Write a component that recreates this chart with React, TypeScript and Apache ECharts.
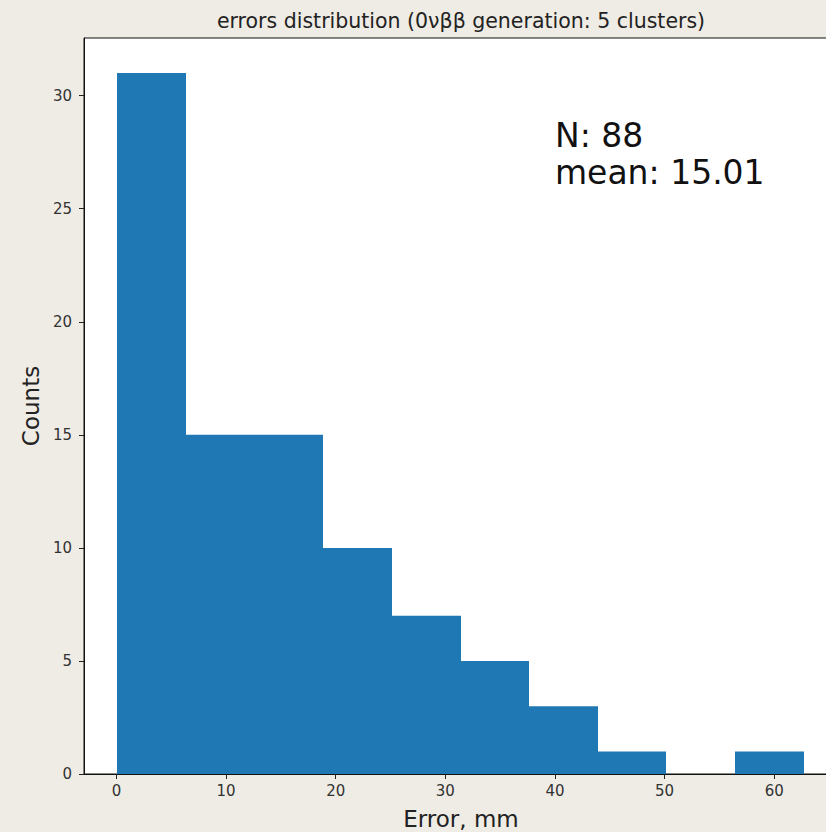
import React, { useEffect, useRef } from "react";
import * as echarts from "echarts";

const binEdges = [0.09, 6.35, 12.61, 18.87, 25.13, 31.39, 37.65, 43.91, 50.17, 56.43, 62.69];
const counts = [31, 15, 15, 10, 7, 5, 3, 1, 0, 1];
const xTicks = [0, 10, 20, 30, 40, 50, 60];
const yTicks = [0, 5, 10, 15, 20, 25, 30];
const titleText = "errors distribution (0νββ generation: 5 clusters)";
const statsLines = ["N: 88", "mean: 15.01"];
const statsAnchor = [40, 26];

export default function App() {
  const ref = useRef<HTMLDivElement>(null);
  useEffect(() => {
    if (!ref.current) return;
    const chart = echarts.init(ref.current, null, { renderer: "svg" });
    const data = counts.map((c, i) => [binEdges[i], binEdges[i + 1], c]);
    const font = "DejaVu Sans";
    chart.setOption({
      animation: false,
      backgroundColor: "#efece5",
      title: {
        text: titleText,
        left: 456,
        top: 5,
        textAlign: "center",
        textStyle: { fontFamily: font, fontSize: 20.5, fontWeight: "normal", color: "#222" },
      },
      grid: {
        left: 84,
        right: -12,
        top: 38,
        bottom: 58,
        outerBoundsMode: "none",
        containLabel: false,
        show: true,
        backgroundColor: "#ffffff",
        borderColor: "#111",
        borderWidth: 1,
      },
      xAxis: {
        type: "value",
        min: -2.96,
        max: 65.82,
        name: "Error, mm",
        nameLocation: "middle",
        nameGap: 33,
        nameTextStyle: { fontFamily: font, fontSize: 23, color: "#222" },
        splitLine: { show: false },
        axisLine: { show: true, onZero: false, lineStyle: { color: "#111", width: 1 } },
        axisTick: { show: true, length: 5, lineStyle: { color: "#222" }, customValues: xTicks },
        axisLabel: { fontFamily: font, fontSize: 15, color: "#333", margin: 9, customValues: xTicks },
      },
      yAxis: {
        type: "value",
        min: 0,
        max: 32.55,
        name: "Counts",
        nameLocation: "middle",
        nameGap: 42,
        nameTextStyle: { fontFamily: font, fontSize: 23, color: "#222" },
        splitLine: { show: false },
        axisLine: { show: true, onZero: false, lineStyle: { color: "#111", width: 1 } },
        axisTick: { show: true, length: 5, lineStyle: { color: "#222" }, customValues: yTicks },
        axisLabel: { fontFamily: font, fontSize: 15, color: "#333", margin: 12, customValues: yTicks },
      },
      series: [
        {
          type: "custom",
          data,
          renderItem: (params: any, api: any) => {
            const x0 = api.value(0);
            const x1 = api.value(1);
            const c = api.value(2);
            if (!c) return null;
            const p0 = api.coord([x0, c]);
            const p1 = api.coord([x1, 0]);
            const xl = Math.round(p0[0]);
            const xr = Math.round(p1[0]);
            return {
              type: "rect",
              shape: { x: xl, y: p0[1], width: xr - xl, height: p1[1] - p0[1] },
              style: { fill: "#1f77b4" },
            };
          },
        },
      ],
    });
    const pt = chart.convertToPixel({ gridIndex: 0 }, statsAnchor) as number[];
    chart.setOption({
      graphic: [
        {
          type: "text",
          x: pt[0],
          y: pt[1] + 5,
          style: {
            text: statsLines.join("\n"),
            fontFamily: font,
            fontSize: 33,
            lineHeight: 37,
            fill: "#111",
            textAlign: "left",
            textVerticalAlign: "bottom",
          },
        },
      ],
    });
    return () => chart.dispose();
  }, []);
  return (
    <div
      ref={ref}
      style={{ position: "absolute", left: 0, top: 0, width: 826, height: 832 }}
    />
  );
}
